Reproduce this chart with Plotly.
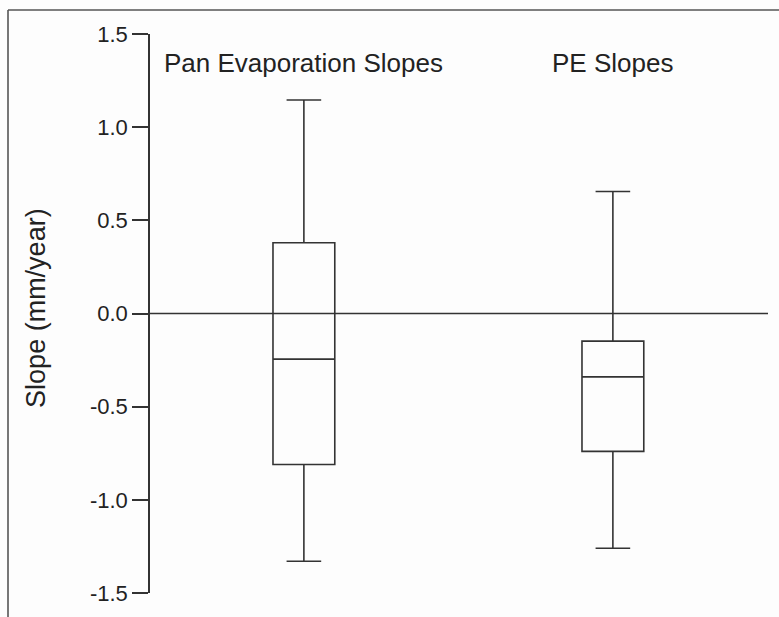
import plotly.graph_objects as go

categories = ["Pan Evaporation Slopes", "PE Slopes"]
lower_whisker = [-1.33, -1.26]
q1 = [-0.81, -0.74]
median = [-0.245, -0.34]
q3 = [0.38, -0.148]
upper_whisker = [1.146, 0.655]
y_ticks = [-1.5, -1.0, -0.5, 0.0, 0.5, 1.0, 1.5]
y_tick_labels = ["-1.5", "-1.0", "-0.5", "0.0", "0.5", "1.0", "1.5"]
y_title = "Slope (mm/year)"

INK = "#333333"
FONT = "Liberation Sans, Arial, sans-serif"
W, H = 779, 617
L, R, T, B = 150, 11, 34, 24
pw, ph = W - L - R, H - T - B

fig = go.Figure()
fig.add_trace(go.Box(
    x=categories,
    q1=q1, median=median, q3=q3,
    lowerfence=lower_whisker, upperfence=upper_whisker,
    width=0.2, whiskerwidth=0.56,
    line=dict(color=INK, width=1.6),
    fillcolor="rgba(0,0,0,0)",
    boxpoints=False,
    hoverinfo="skip",
))

shapes = [
    dict(type="line", xref="paper", yref="y", x0=0, x1=1, y0=0, y1=0,
         line=dict(color=INK, width=1.6), layer="below"),
    # outer frame (top and left edges)
    dict(type="line", xref="paper", yref="paper",
         x0=(8 - L) / pw, x1=(W + 5 - L) / pw,
         y0=(H - B - 10) / ph, y1=(H - B - 10) / ph,
         line=dict(color="#555555", width=1.6)),
    dict(type="line", xref="paper", yref="paper",
         x0=(8 - L) / pw, x1=(8 - L) / pw,
         y0=(H - B - 10) / ph, y1=-0.2,
         line=dict(color="#555555", width=1.6)),
]

annotations = [
    dict(x=c, y=1.342, xref="x", yref="y", text=c, showarrow=False,
         xanchor="center", yanchor="middle",
         font=dict(family=FONT, size=26, color="#222222"))
    for c in categories
]
annotations.append(dict(
    x=(36 - L) / pw, y=0.03, xref="paper", yref="y", text=y_title,
    showarrow=False, textangle=-90, xanchor="center", yanchor="middle",
    font=dict(family=FONT, size=27, color="#222222")))

fig.update_layout(
    width=W, height=H,
    margin=dict(l=L, r=R, t=T, b=B, pad=0),
    paper_bgcolor="#fdfdfd", plot_bgcolor="#fdfdfd",
    showlegend=False,
    shapes=shapes,
    annotations=annotations,
    font=dict(family=FONT, color="#222222"),
)
fig.update_xaxes(
    range=[-0.498, 1.502], showticklabels=False, showgrid=False,
    zeroline=False, showline=False, ticks="",
)
fig.update_yaxes(
    range=[-1.5, 1.5], tickvals=y_ticks, ticktext=y_tick_labels,
    showgrid=False, zeroline=False, showline=True, linecolor=INK, linewidth=1.6,
    ticks="outside", ticklen=16, tickwidth=1.6, tickcolor=INK,
    tickfont=dict(family=FONT, size=22, color="#222222"),
)

fig.write_html("out.html")
